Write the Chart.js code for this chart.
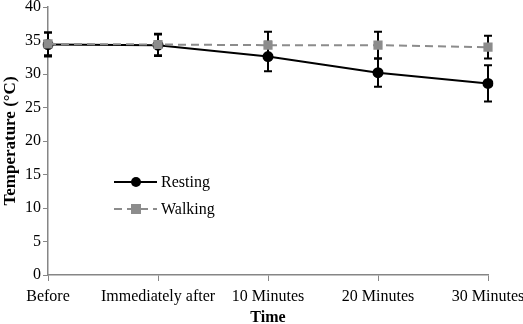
<!DOCTYPE html>
<html><head><meta charset="utf-8">
<script src="https://cdn.jsdelivr.net/npm/chart.js@4/dist/chart.umd.min.js"></script>
<style>html,body{margin:0;padding:0;background:#fff}#wrap{width:523px;height:324px}</style>
</head><body><div id="wrap"><canvas id="c" width="523" height="324"></canvas></div>
<script>
const categories = ["Before", "Immediately after", "10 Minutes", "20 Minutes", "30 Minutes"];
const restingValues = [34.4, 34.3, 32.6, 30.2, 28.6];
const restingErrors = [1.8, 1.6, 2.2, 2.1, 2.7];
const walkingValues = [34.5, 34.4, 34.3, 34.3, 34.0];
const walkingErrors = [1.7, 1.6, 2.0, 2.0, 1.7];
const yTicks = [0, 5, 10, 15, 20, 25, 30, 35, 40];

const FONT = "'Liberation Serif', 'Times New Roman', serif";
const GRAY = '#8c8c8c';
const AXIS = '#868686';

const errorBarPlugin = {
  id: 'errorBars',
  beforeDatasetsDraw(chart) {
    const ctx = chart.ctx, y = chart.scales.y;
    ctx.save();
    ctx.strokeStyle = '#000';
    ctx.lineWidth = 2;
    chart.data.datasets.forEach((ds, di) => {
      const meta = chart.getDatasetMeta(di);
      meta.data.forEach((pt, i) => {
        const v = ds.data[i], e = ds.errors[i];
        const yt = y.getPixelForValue(v + e), yb = y.getPixelForValue(v - e);
        const x = pt.x;
        ctx.beginPath();
        ctx.moveTo(x, yt); ctx.lineTo(x, yb);
        ctx.moveTo(x - 4, yt); ctx.lineTo(x + 4, yt);
        ctx.moveTo(x - 4, yb); ctx.lineTo(x + 4, yb);
        ctx.stroke();
      });
    });
    ctx.restore();
  }
};

const legendPlugin = {
  id: 'innerLegend',
  afterDraw(chart) {
    const ctx = chart.ctx;
    ctx.save();
    const items = [
      {ds: chart.data.datasets[0], y: 182},
      {ds: chart.data.datasets[1], y: 209}
    ];
    items.forEach(it => {
      const ds = it.ds;
      ctx.strokeStyle = ds.borderColor;
      ctx.lineWidth = 2;
      ctx.setLineDash(ds.borderDash || []);
      ctx.beginPath();
      ctx.moveTo(114, it.y); ctx.lineTo(157, it.y);
      ctx.stroke();
      ctx.setLineDash([]);
      ctx.fillStyle = ds.pointBackgroundColor;
      if (ds.pointStyle === 'circle') {
        ctx.beginPath(); ctx.arc(136, it.y, 5, 0, Math.PI * 2); ctx.fill();
      } else {
        ctx.fillRect(131, it.y - 5, 10, 10);
      }
      ctx.fillStyle = '#000';
      ctx.font = '16px ' + FONT;
      ctx.textBaseline = 'middle';
      ctx.textAlign = 'left';
      ctx.fillText(ds.label, 161, it.y + 1);
    });
    ctx.restore();
  }
};

new Chart(document.getElementById('c'), {
  type: 'line',
  data: {
    labels: categories,
    datasets: [
      {
        label: 'Resting', data: restingValues, errors: restingErrors,
        borderColor: '#000', borderWidth: 2, pointStyle: 'circle',
        pointRadius: 5.5, pointBackgroundColor: '#000', pointBorderColor: '#000',
        pointBorderWidth: 0, tension: 0, order: 1
      },
      {
        label: 'Walking', data: walkingValues, errors: walkingErrors,
        borderColor: GRAY, borderWidth: 2, borderDash: [8, 5], pointStyle: 'rect',
        pointRadius: 6.5, pointBackgroundColor: GRAY, pointBorderColor: GRAY,
        pointBorderWidth: 0, tension: 0, order: 0
      }
    ]
  },
  options: {
    responsive: false,
    animation: false,
    layout: {padding: {left: 0, right: 35, top: 7, bottom: 0}},
    plugins: {legend: {display: false}, tooltip: {enabled: false}},
    scales: {
      x: {
        offset: false,
        grid: {drawOnChartArea: false, drawTicks: true, tickLength: 6, color: AXIS, offset: false},
        border: {color: AXIS, width: 1.5},
        ticks: {color: '#000', font: {family: FONT, size: 16}, maxRotation: 0, autoSkip: false, padding: 6},
        title: {display: true, text: 'Time', color: '#000', font: {family: FONT, size: 16, weight: 'bold'}, padding: {top: 3, bottom: -3}},
        afterFit(s) { s.height = 49; s.paddingLeft = 0; s.paddingRight = 0; }
      },
      y: {
        min: 0, max: 40,
        afterBuildTicks(s) { s.ticks = yTicks.map(v => ({value: v})); },
        grid: {drawOnChartArea: false, drawTicks: true, tickLength: 5, color: AXIS},
        border: {color: AXIS, width: 1.5},
        ticks: {color: '#000', font: {family: FONT, size: 16}, padding: 2},
        title: {display: true, text: 'Temperature (°C)', color: '#000', font: {family: FONT, size: 17, weight: 'bold'}, padding: {top: 0, bottom: 0}},
        afterFit(s) { s.width = 48; s.paddingTop = 0; s.paddingBottom = 0; }
      }
    }
  },
  plugins: [errorBarPlugin, legendPlugin]
});
</script></body></html>
